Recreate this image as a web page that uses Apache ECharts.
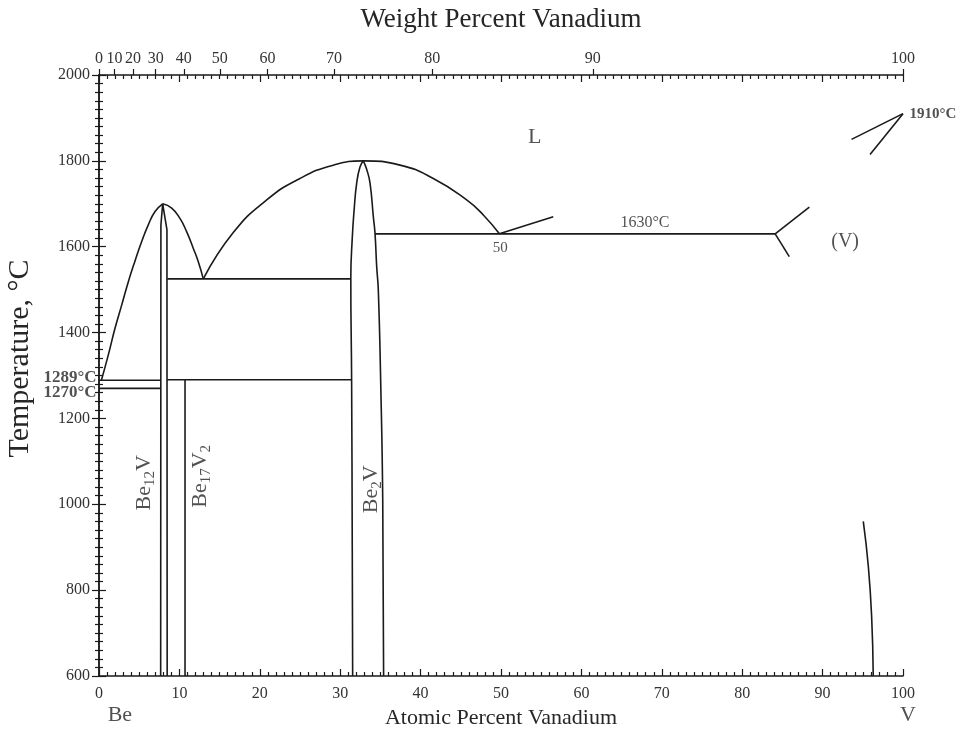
<!DOCTYPE html>
<html>
<head>
<meta charset="utf-8">
<title>Be-V phase diagram</title>
<script src="https://cdn.jsdelivr.net/npm/echarts@6/dist/echarts.min.js"></script>
<style>
  html, body { margin: 0; padding: 0; background: #fff; }
  #chart { width: 961px; height: 738px; }
</style>
</head>
<body>
<div id="chart"></div>
<script>
// atomic masses, used to place the weight-percent scale on top
const massBe = 9.012;
const massV = 50.942;

// tick labels
const wtTicks = [0, 10, 20, 30, 40, 50, 60, 70, 80, 90, 100];

// phase boundaries, [atomic % V, temperature °C]
const liqBe12VLeft = [[0.3, 1289], [1.16, 1348], [1.99, 1410], [2.82, 1464], [3.64, 1518], [4.48, 1567], [5.31, 1612], [6.13, 1651], [6.97, 1682], [7.92, 1700]];
const liqBe12VRight = [[7.92, 1700], [9.04, 1690], [10.07, 1666], [10.9, 1635], [11.73, 1596], [12.35, 1565], [12.97, 1525]];
const liqBe2V = [[12.97, 1525], [16.7, 1633], [20.86, 1709], [25.0, 1759], [29.14, 1790], [32.87, 1800], [37.44, 1790], [41.58, 1759], [45.73, 1709], [47.8, 1674], [49.8, 1630]];
const be12VLeft = [[7.67, 600], [7.7, 1650], [7.92, 1700]];
const be12VRight = [[8.48, 600], [8.45, 1640], [7.92, 1700]];
const be2VLeft = [[31.55, 600], [31.5, 900], [31.42, 1290], [31.32, 1525], [31.5, 1620], [31.75, 1690], [32.05, 1748], [32.45, 1785], [32.87, 1800]];
const be2VRight = [[32.87, 1800], [33.3, 1780], [33.71, 1748], [34.12, 1670], [34.33, 1631], [34.54, 1553], [34.74, 1499], [35.04, 1282], [35.29, 1010], [35.4, 600]];
const be17V2 = [[10.7, 600], [10.7, 1290]];
const iso1289 = [[0, 1289], [7.67, 1289]];
const iso1270 = [[0, 1270], [7.67, 1270]];
const iso1525 = [[8.48, 1525], [31.32, 1525]];
const iso1290 = [[8.48, 1290], [31.42, 1290]];
const iso1630 = [[34.33, 1630], [84.1, 1630]];
const eutBranch = [[49.8, 1630], [56.5, 1670]];
const vLiqBranch = [[84.1, 1630], [88.35, 1692]];
const vSolBranch = [[84.1, 1630], [85.86, 1577]];
const vMeltA = [[100, 1910], [93.6, 1850]];
const vMeltB = [[100, 1910], [95.9, 1815]];
const vSolvus = [[95.06, 960], [95.69, 855], [96.1, 738], [96.3, 600]];

// text annotations, [atomic % V, temperature °C]
const annoText = ['L', '1630°C', '50', '(V)', '1910°C', '1289°C', '1270°C', 'Be12V', 'Be17V2', 'Be2V', 'Be', 'V'];
const annoPos = [[54.2, 1855], [67.9, 1656], [49.9, 1597], [92.8, 1611], [100, 1910], [0, 1289], [0, 1270], [5.6, 1050], [12.6, 1065], [33.8, 1035], [2.6, 600], [100.6, 600]];

function wtToAt(w) {
  const nv = w / massV;
  const nb = (100 - w) / massBe;
  return 100 * nv / (nv + nb);
}

const wtPos = wtTicks.map(wtToAt);

const chart = echarts.init(document.getElementById('chart'));

const ink = '#1a1a1a';
const textInk = '#262626';
const serif = 'Liberation Serif';

function lineSeries(data, smooth) {
  return {
    type: 'line',
    data: data,
    smooth: smooth || false,
    showSymbol: false,
    symbol: 'none',
    silent: true,
    clip: false,
    lineStyle: { color: ink, width: 1.6 },
    z: 3
  };
}

const lines = [
  lineSeries(liqBe12VLeft, 0.5),
  lineSeries(liqBe12VRight, 0.5),
  lineSeries(liqBe2V, 0.5),
  lineSeries(be12VLeft, false),
  lineSeries(be12VRight, false),
  lineSeries(be2VLeft, 0.5),
  lineSeries(be2VRight, 0.5),
  lineSeries(be17V2, false),
  lineSeries(iso1289, false),
  lineSeries(iso1270, false),
  lineSeries(iso1525, false),
  lineSeries(iso1290, false),
  lineSeries(iso1630, false),
  lineSeries(eutBranch, false),
  lineSeries(vLiqBranch, false),
  lineSeries(vSolBranch, false),
  lineSeries(vMeltA, false),
  lineSeries(vMeltB, false),
  lineSeries(vSolvus, 0.5)
];

// label styles for each annotation
const subRich = {
  a: { fontSize: 22, fontFamily: serif, color: textInk },
  s: { fontSize: 15, fontFamily: serif, color: textInk, padding: [12, 0, 0, 0] }
};
const annoStyle = {
  'L': { fontSize: 22 },
  '1630°C': { fontSize: 16 },
  '50': { fontSize: 15 },
  '(V)': { fontSize: 20 },
  '1910°C': { fontSize: 15, fontWeight: 'bold', position: 'right', distance: 6 },
  '1289°C': { fontSize: 17, fontWeight: 'bold', position: 'left', distance: 2, offset: [0, -3] },
  '1270°C': { fontSize: 17, fontWeight: 'bold', position: 'left', distance: 2, offset: [0, 4] },
  'Be12V': { rotate: 90, formatter: '{a|Be}{s|12}{a|V}', rich: subRich },
  'Be17V2': { rotate: 90, formatter: '{a|Be}{s|17}{a|V}{s|2}', rich: subRich },
  'Be2V': { rotate: 90, formatter: '{a|Be}{s|2}{a|V}', rich: subRich },
  'Be': { fontSize: 22, position: 'bottom', distance: 28 },
  'V': { fontSize: 22, position: 'bottom', distance: 28 }
};

const annoData = annoText.map(function(t, i) {
  const st = Object.assign({
    show: true,
    position: 'inside',
    formatter: t,
    fontFamily: serif,
    color: textInk
  }, annoStyle[t]);
  return { name: t, value: annoPos[i], label: st };
});

const annoSeries = {
  type: 'scatter',
  data: annoData,
  symbolSize: 1,
  itemStyle: { color: 'rgba(0,0,0,0)' },
  silent: true,
  clip: false,
  z: 5
};

const tickLine = { color: ink, width: 1.2 };

const option = {
  animation: false,
  backgroundColor: '#fff',
  textStyle: { fontFamily: serif },
  grid: { left: 99, right: 58, top: 75, bottom: 62, containLabel: false, outerBoundsMode: 'none' },
  xAxis: [
    {
      type: 'value', position: 'bottom', min: 0, max: 100, interval: 10,
      name: 'Atomic Percent Vanadium', nameLocation: 'middle', nameGap: 29,
      nameTextStyle: { fontSize: 22, color: textInk, fontFamily: serif },
      axisLine: { lineStyle: { color: ink, width: 1.5 } },
      axisTick: { inside: true, length: 7, lineStyle: tickLine },
      minorTick: { show: true, splitNumber: 10, length: 4, lineStyle: tickLine },
      splitLine: { show: false },
      axisLabel: { fontSize: 16, color: '#333', margin: 10, fontFamily: serif }
    },
    {
      type: 'value', position: 'top', min: 0, max: 100, interval: 10,
      axisLine: { lineStyle: { color: ink, width: 1.5 } },
      axisTick: { inside: true, length: 7, lineStyle: tickLine },
      minorTick: { show: true, splitNumber: 10, length: 4, lineStyle: tickLine },
      splitLine: { show: false },
      axisLabel: { show: false }
    },
    {
      type: 'value', position: 'top', min: 0, max: 100,
      name: 'Weight Percent Vanadium', nameLocation: 'middle', nameGap: 42,
      nameTextStyle: { fontSize: 27, color: textInk, fontFamily: serif },
      axisLine: { show: false },
      axisTick: { show: true, customValues: wtPos, inside: false, length: 6, lineStyle: tickLine },
      splitLine: { show: false },
      axisLabel: {
        customValues: wtPos, fontSize: 16, color: '#333', margin: 8, fontFamily: serif,
        formatter: function(v) {
          let best = 0;
          wtPos.forEach(function(p, i) {
            if (Math.abs(p - v) < Math.abs(wtPos[best] - v)) best = i;
          });
          return String(wtTicks[best]);
        }
      }
    }
  ],
  yAxis: [
    {
      type: 'value', position: 'left', min: 600, max: 2000, interval: 200,
      name: 'Temperature, °C', nameLocation: 'middle', nameGap: 64,
      nameTextStyle: { fontSize: 30, color: textInk, fontFamily: serif, padding: [0, 0, 0, 34] },
      axisLine: { lineStyle: { color: ink, width: 1.5 } },
      axisTick: { inside: false, length: 7, lineStyle: tickLine },
      minorTick: { show: true, splitNumber: 10, length: 4, lineStyle: tickLine },
      splitLine: { show: false },
      axisLabel: {
        fontSize: 16, color: '#333', margin: 9, fontFamily: serif,
        formatter: function(v) { return String(v); }
      }
    },
    {
      type: 'value', position: 'right', min: 600, max: 2000, interval: 200,
      axisLine: { lineStyle: { color: ink, width: 1.5 } },
      axisTick: { inside: false, length: 7, lineStyle: tickLine },
      minorTick: { show: true, splitNumber: 10, length: 4, lineStyle: tickLine },
      splitLine: { show: false },
      axisLabel: { show: false }
    }
  ],
  series: lines.concat([annoSeries])
};

chart.setOption(option);
</script>
</body>
</html>
